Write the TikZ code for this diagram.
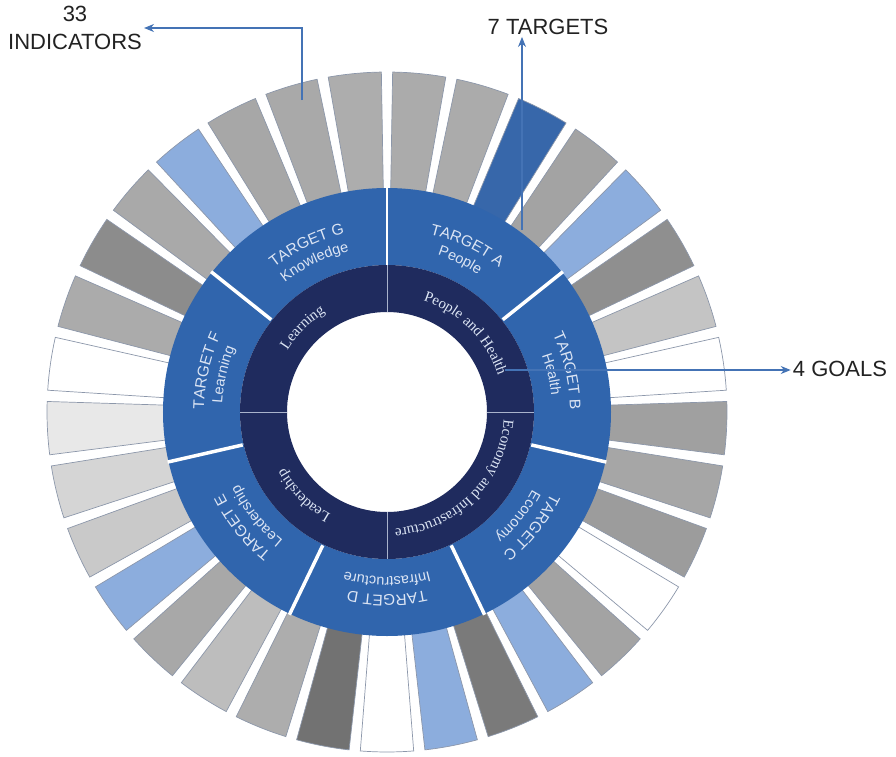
\documentclass[tikz,border=0pt]{standalone}
\usepackage{fontspec}
\setmainfont{Liberation Sans}
\newfontfamily\goalserif{Liberation Serif}
\usetikzlibrary{decorations.text,arrows.meta}
\definecolor{navy}{HTML}{1F2B5E}
\definecolor{ringblue}{HTML}{3065AD}
\definecolor{txtlight}{HTML}{DCE5F4}
\definecolor{segline}{HTML}{8C97AA}
\definecolor{goalline}{HTML}{A9B3CC}
\definecolor{arrowblue}{HTML}{4473B5}
\definecolor{labeltext}{HTML}{222222}
\newcommand\curvetext[4]{%
  \path[decorate, decoration={text along path, text align=center, text color=txtlight,
    text={|#3|#4}}] ({#2+50}:#1) arc[start angle={#2+50}, end angle={#2-50}, radius=#1];}
\newcommand\tgtA{\fontsize{15.5}{18}\selectfont}
\newcommand\tgtB{\fontsize{14.5}{17}\selectfont}
\newcommand\goalF{\goalserif\fontsize{15}{18}\selectfont}
\begin{document}
\begin{tikzpicture}[x=1pt,y=1pt,
  seg/.style={draw=segline, line width=0.7pt},
  conn/.style={draw=arrowblue, line width=1.1pt, -{Stealth[length=10pt,width=8pt]}},
  lbl/.style={font=\fontsize{22}{28}\selectfont, text=labeltext, align=center, inner sep=2pt}]
\useasboundingbox (-387,-344) rectangle (509,412);

% 33 indicator segments, clockwise from the top
\foreach \col [count=\i from 0] in {ABABAB,ABABAB,3767AA,A3A3A3,8CADDD,8F8F8F,C4C4C4,FFFFFF,
  A0A0A0,A6A6A6,9C9C9C,FFFFFF,A3A3A3,8CADDD,7A7A7A,8CADDD,FFFFFF,727272,ADADAD,BDBDBD,
  A8A8A8,8CADDD,C9C9C9,D5D5D5,E8E8E8,FFFFFF,ABABAB,8C8C8C,A9A9A9,8CADDD,A7A7A7,A9A9A9,ADADAD}{
  \definecolor{segfill}{HTML}{\col}
  \pgfmathsetmacro\aa{90-\i*360/33-0.95}
  \pgfmathsetmacro\ab{90-(\i+1)*360/33+0.95}
  \filldraw[seg, fill=segfill] (\aa:222) arc[start angle=\aa, end angle=\ab, radius=222]
    -- (\ab:340) arc[start angle=\ab, end angle=\aa, radius=340] -- cycle;
}

% target ring and goal ring
\fill[ringblue, even odd rule] (0,0) circle[radius=224] (0,0) circle[radius=147];
\fill[navy, even odd rule] (0,0) circle[radius=147] (0,0) circle[radius=100];

\foreach \k in {1,...,6}
  \draw[white, line width=3.5pt] ({90-\k*360/7}:148) -- ({90-\k*360/7}:225);
\draw[white, line width=2pt] (90:147) -- (90:225);
\foreach \a in {0,90,180,270}
  \draw[goalline, line width=0.8pt] (\a:100) -- (\a:147);

% target labels
\curvetext{183}{64.2857}{\tgtA}{TARGET A}
\curvetext{165}{64.2857}{\tgtB}{People}
\curvetext{183}{12.8571}{\tgtA}{TARGET B}
\curvetext{165}{12.8571}{\tgtB}{Health}
\curvetext{183}{-38.5714}{\tgtA}{TARGET C}
\curvetext{165}{-38.5714}{\tgtB}{Economy}
\curvetext{183}{-90}{\tgtA}{TARGET D}
\curvetext{165}{-90}{\tgtB}{Infrastructure}
\curvetext{183}{-141.4286}{\tgtA}{TARGET E}
\curvetext{165}{-141.4286}{\tgtB}{Leadership}
\curvetext{183}{-192.8571}{\tgtA}{TARGET F}
\curvetext{165}{-192.8571}{\tgtB}{Learning}
\curvetext{183}{-244.2857}{\tgtA}{TARGET G}
\curvetext{165}{-244.2857}{\tgtB}{Knowledge}

% goal labels
\curvetext{117}{45}{\goalF}{People and Health}
\curvetext{117}{-45}{\goalF}{Economy and Infrastructure}
\curvetext{117}{-135}{\goalF}{Leadership}
\curvetext{117}{135}{\goalF}{Learning}

% annotations
\node[lbl] (ind) at (-312,384) {33\\INDICATORS};
\node[lbl] (tgt) at (161,385) {7 TARGETS};
\node[lbl] (gls) at (453,43) {4 GOALS};
\coordinate (indsrc) at (-85,312);
\coordinate (tgtsrc) at (135,182);
\coordinate (glssrc) at (118,42);
\draw[conn] (indsrc) |- (ind.east);
\draw[conn] (tgtsrc) -- (tgtsrc |- tgt.south);
\draw[conn] (glssrc) -- (glssrc -| gls.west);
\end{tikzpicture}
\end{document}
